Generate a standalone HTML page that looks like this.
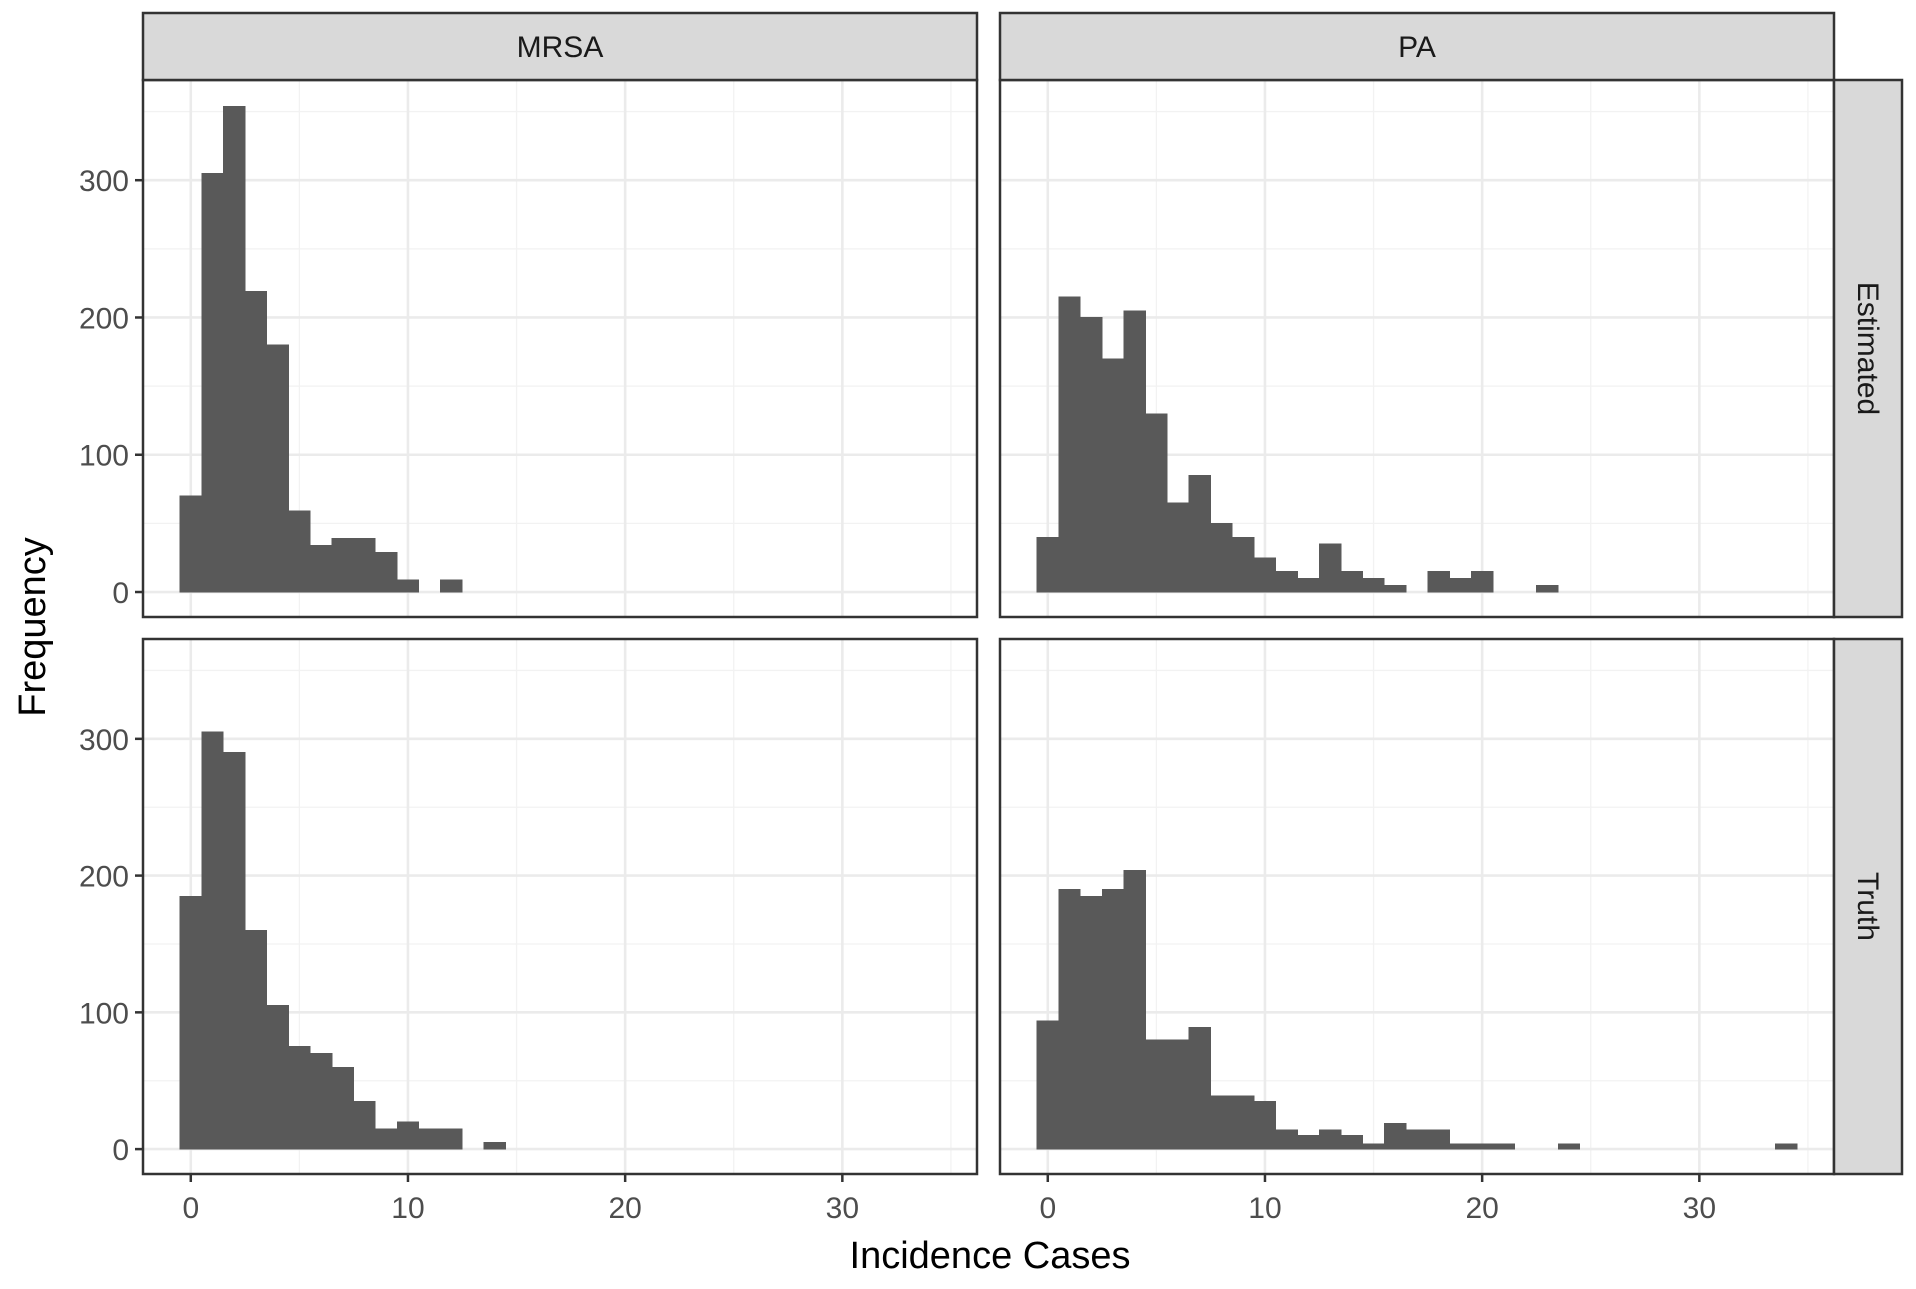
<!DOCTYPE html>
<html><head><meta charset="utf-8"><style>
body{margin:0;background:#fff}
svg text{font-family:"Liberation Sans",sans-serif}
</style></head><body>
<svg id="c" width="1916" height="1284" viewBox="0 0 1916 1284"></svg>
<script>
const binStarts = [-0.5];
const colFacets = ["MRSA","PA"];
const rowFacets = ["Estimated","Truth"];
const xTicks = [0,10,20,30];
const yTicks = [0,100,200,300];
const mrsaEstimated = [70,305,354,219,180,59,34,39,39,29,9,0,9];
const paEstimated = [40,215,200,170,205,130,65,85,50,40,25,15,10,35,15,10,5,0,15,10,15,0,0,5];
const mrsaTruth = [185,305,290,160,105,75,70,60,35,15,20,15,15,0,5];
const paTruth = [94,190,185,190,204,80,80,89,39,39,35,14,10,14,10,4,19,14,14,4,4,4,0,0,4,0,0,0,0,0,0,0,0,0,4];
const series = [[mrsaEstimated,paEstimated],[mrsaTruth,paTruth]];

const svg = document.getElementById('c');
const NS = 'http://www.w3.org/2000/svg';
function mk(tag, attrs, parent){const e=document.createElementNS(NS,tag);for(const k in attrs)e.setAttribute(k,attrs[k]);(parent||svg).appendChild(e);return e;}
const panelX = [[143,977],[1000,1834]];
const panelY = [[80,617],[639,1174]];
const xMin=-2.2, xMax=36.2, yMin=-18.2, yMax=373;
function sx(c,v){const [a,b]=panelX[c];return a+(v-xMin)/(xMax-xMin)*(b-a);}
function sy(r,v){const [a,b]=panelY[r];return b-(v-yMin)/(yMax-yMin)*(b-a);}

for(let r=0;r<2;r++)for(let c=0;c<2;c++){
  const [x0,x1]=panelX[c],[y0,y1]=panelY[r];
  const g=mk('g',{});
  
  
  mk('rect',{x:x0,y:y0,width:x1-x0,height:y1-y0,fill:'#fff'},g);
  [5,15,25,35].forEach(v=>mk('line',{x1:sx(c,v),x2:sx(c,v),y1:y0,y2:y1,stroke:'#f2f2f2','stroke-width':1.3},g));
  [50,150,250,350].forEach(v=>mk('line',{x1:x0,x2:x1,y1:sy(r,v),y2:sy(r,v),stroke:'#f2f2f2','stroke-width':1.3},g));
  xTicks.forEach(v=>mk('line',{x1:sx(c,v),x2:sx(c,v),y1:y0,y2:y1,stroke:'#ebebeb','stroke-width':2.6},g));
  yTicks.forEach(v=>mk('line',{x1:x0,x2:x1,y1:sy(r,v),y2:sy(r,v),stroke:'#ebebeb','stroke-width':2.6},g));
  const data=series[r][c];
  data.forEach((v,i)=>{
    if(v<=0)return;
    const a=binStarts[0]+i;
    const b=mk('rect',{x:sx(c,a),y:sy(r,v),width:sx(c,a+1)-sx(c,a),height:sy(r,0)-sy(r,v),fill:'#595959',stroke:'#595959','stroke-width':0.6,'shape-rendering':'crispEdges'},g);
    
    
  });
  mk('rect',{x:x0,y:y0,width:x1-x0,height:y1-y0,fill:'none',stroke:'#333','stroke-width':2.5},g);
  if(c===0){
    yTicks.forEach(v=>{
      mk('line',{x1:x0-8,x2:x0,y1:sy(r,v),y2:sy(r,v),stroke:'#333','stroke-width':2.5},g);
      const t=mk('text',{x:x0-14,y:sy(r,v)+11,'text-anchor':'end','font-size':30,fill:'#4d4d4d'},g);
      t.textContent=v;
      
      
    });
  }
  if(r===1){
    xTicks.forEach(v=>{
      mk('line',{x1:sx(c,v),x2:sx(c,v),y1:y1,y2:y1+8,stroke:'#333','stroke-width':2.5},g);
      const t=mk('text',{x:sx(c,v),y:y1+44,'text-anchor':'middle','font-size':30,fill:'#4d4d4d'},g);
      t.textContent=v;
      
      
    });
  }
}
colFacets.forEach((f,c)=>{
  const [x0,x1]=panelX[c];
  const s=mk('rect',{x:x0,y:13,width:x1-x0,height:67,fill:'#d9d9d9',stroke:'#333','stroke-width':2.5});
  
  
  const t=mk('text',{x:(x0+x1)/2,y:57,'text-anchor':'middle','font-size':30,fill:'#1a1a1a'});
  t.textContent=f;
  
  
});
rowFacets.forEach((f,r)=>{
  const [y0,y1]=panelY[r];
  const s=mk('rect',{x:1834,y:y0,width:68,height:y1-y0,fill:'#d9d9d9',stroke:'#333','stroke-width':2.5});
  
  
  const cy=(y0+y1)/2;
  const t=mk('text',{x:1868,y:cy,'text-anchor':'middle','font-size':30,fill:'#1a1a1a',transform:'rotate(90 1868 '+cy+') translate(0 10)'});
  t.textContent=f;
  
  
});
const xt=mk('text',{x:990,y:1268,'text-anchor':'middle','font-size':38,fill:'#000'});
xt.textContent='Incidence Cases';


const yt=mk('text',{x:45,y:627,'text-anchor':'middle','font-size':38,fill:'#000',transform:'rotate(-90 45 627)'});
yt.textContent='Frequency';


</script>
</body></html>
